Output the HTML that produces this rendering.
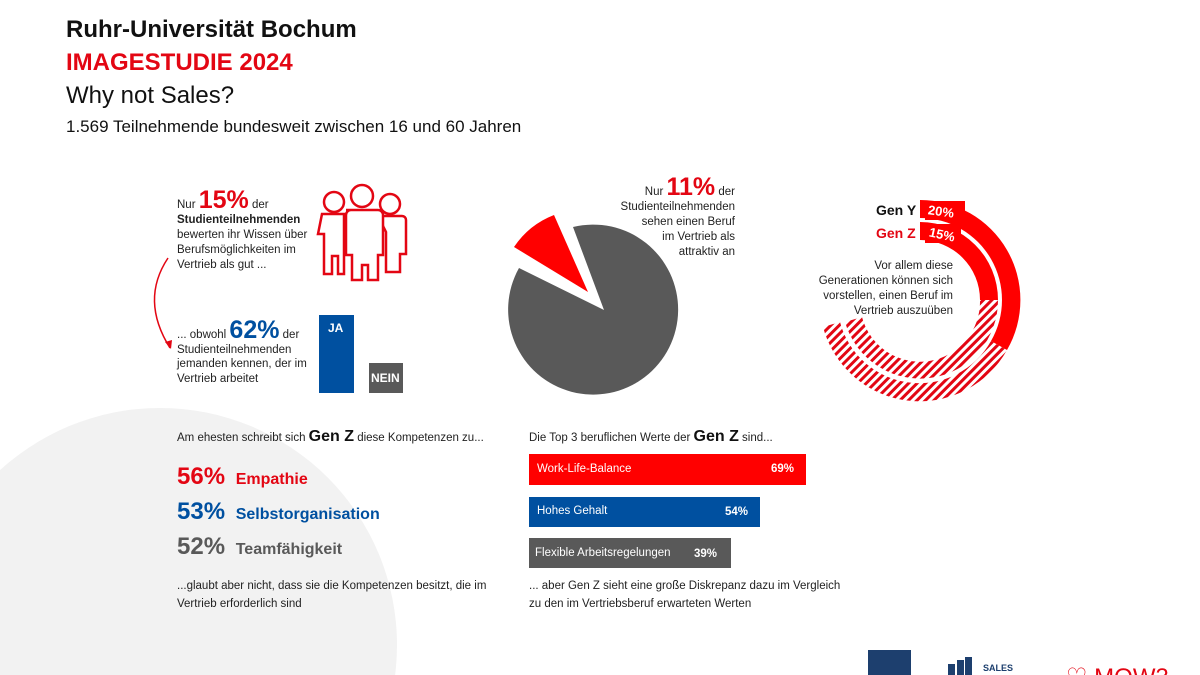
<!DOCTYPE html>
<html><head><meta charset="utf-8"><style>
body{margin:0;width:1200px;height:675px;overflow:hidden;background:#fff;font-family:"Liberation Sans",sans-serif;position:relative}
.a{position:absolute;white-space:nowrap}
.b{font-weight:bold}
</style></head><body>
<svg class="a" style="left:0;top:0" width="1200" height="675">
<defs>
<pattern id="st" width="6" height="6" patternUnits="userSpaceOnUse" patternTransform="rotate(45)">
<rect width="3" height="6" fill="#e30613"/>
</pattern>
</defs>
<circle cx="160" cy="645" r="237" fill="#f2f2f2"/>
<g fill="none" stroke="#e30613" stroke-width="2.5">
<circle cx="334" cy="202" r="10"/><circle cx="390" cy="204" r="10"/><circle cx="362" cy="196" r="11"/>
<path d="M322 214 h22 v60 h-6 v-18 h-6 v18 h-8 v-40 h-6z" />
<path d="M378 216 h24 a4 4 0 0 1 4 4 v34 h-6 v18 h-14 v-40z"/>
<path d="M346 210 h32 a5 5 0 0 1 5 5 v40 h-5 v25 h-10 v-15 h-6 v15 h-10 v-25 h-6 v-40 a5 5 0 0 1 5 -5z" fill="#fff"/>
</g>
<path d="M168 258 Q140 300 170 348" fill="none" stroke="#e30613" stroke-width="1.5"/>
<path d="M165 342 l6 7 l1 -9z" fill="#e30613"/>
<rect x="319" y="315" width="35" height="78" fill="#0050a0"/>
<rect x="369" y="363" width="34" height="30" fill="#595959"/>
<g transform="translate(11,0)">
<path d="M593 310 L562 227 A85 85 0 1 1 508 268 Z" fill="#595959"/>
<path d="M577 292 L503 247 A85 85 0 0 1 543 215 Z" fill="#ff0000"/>
</g>
<path d="M920 200 A100 100 0 0 1 1007 350 L991 341 A82 82 0 0 0 920 218Z" fill="#ff0000"/>
<path d="M1007 350 A100 100 0 0 1 823 327 L840 322 A82 82 0 0 0 991 341Z" fill="url(#st)"/>
<path d="M920 222 A78 78 0 0 1 998 300 L980 300 A60 60 0 0 0 920 240Z" fill="#ff0000"/>
<path d="M998 300 A78 78 0 0 1 845 322 L862 317 A60 60 0 0 0 980 300Z" fill="url(#st)"/>
<rect x="925" y="201" width="40" height="19" fill="#ff0000"/>
<rect x="925" y="224" width="36" height="19" fill="#ff0000"/>
<rect x="529" y="454" width="277" height="31" fill="#ff0000"/>
<rect x="529" y="497" width="231" height="30" fill="#0050a0"/>
<rect x="529" y="538" width="202" height="30" fill="#595959"/>
<rect x="868" y="650" width="43" height="25" fill="#1d3f6e"/>
<rect x="948" y="664" width="7" height="11" fill="#1d3f6e"/><rect x="957" y="660" width="7" height="15" fill="#1d3f6e"/><rect x="965" y="657" width="7" height="18" fill="#1d3f6e"/>
<text x="1066" y="685" font-size="24" fill="#e30613" font-family="Liberation Sans">♡ MOW3</text>
</svg>
<div class="a b" style="left:66px;top:16px;font-size:24px;color:#111">Ruhr-Universität Bochum</div>
<div class="a b" style="left:66px;top:49px;font-size:24px;color:#e30613">IMAGESTUDIE 2024</div>
<div class="a" style="left:66px;top:82px;font-size:24px;color:#111">Why not Sales?</div>
<div class="a" style="left:66px;top:117px;font-size:17px;color:#111">1.569 Teilnehmende bundesweit zwischen 16 und 60 Jahren</div>

<div class="a" style="left:177px;top:193px;font-size:11.5px;line-height:15px;color:#222">Nur <span class="b" style="font-size:25px;color:#e30613">15%</span> der<br><b>Studienteilnehmenden</b><br>bewerten ihr Wissen über<br>Berufsmöglichkeiten im<br>Vertrieb als gut ...</div>
<div class="a" style="left:177px;top:323px;font-size:11.5px;line-height:14.5px;color:#222">... obwohl <span class="b" style="font-size:25px;color:#0050a0">62%</span> der<br>Studienteilnehmenden<br>jemanden kennen, der im<br>Vertrieb arbeitet</div>
<div class="a b" style="left:328px;top:321px;font-size:12px;color:#fff">JA</div>
<div class="a b" style="left:371px;top:371px;font-size:12px;color:#fff">NEIN</div>

<div class="a" style="left:600px;top:180px;width:135px;text-align:right;font-size:11.5px;line-height:15px;color:#222;white-space:normal">Nur <span class="b" style="font-size:25px;color:#e30613">11%</span> der<br>Studienteilnehmenden<br>sehen einen Beruf<br>im Vertrieb als<br>attraktiv an</div>

<div class="a b" style="left:876px;top:202px;font-size:14px;color:#111">Gen Y</div>
<div class="a b" style="left:928px;top:204px;font-size:13px;color:#fff;transform:rotate(8deg)">20%</div>
<div class="a b" style="left:876px;top:225px;font-size:14px;color:#e30613">Gen Z</div>
<div class="a b" style="left:929px;top:227px;font-size:13px;color:#fff;transform:rotate(12deg)">15%</div>
<div class="a" style="left:790px;top:259px;width:163px;text-align:right;font-size:11.5px;line-height:15px;color:#222">Vor allem diese<br>Generationen können sich<br>vorstellen, einen Beruf im<br>Vertrieb auszuüben</div>

<div class="a" style="left:177px;top:428px;font-size:11.5px;color:#222">Am ehesten schreibt sich <span class="b" style="font-size:16px;color:#111">Gen Z</span> diese Kompetenzen zu...</div>
<div class="a b" style="left:177px;top:463px;font-size:24px;color:#e30613">56% <span style="font-size:16px;margin-left:4px">Empathie</span></div>
<div class="a b" style="left:177px;top:498px;font-size:24px;color:#0050a0">53% <span style="font-size:16px;margin-left:4px">Selbstorganisation</span></div>
<div class="a b" style="left:177px;top:533px;font-size:24px;color:#595959">52% <span style="font-size:16px;margin-left:4px">Teamfähigkeit</span></div>
<div class="a" style="left:177px;top:577px;font-size:11.5px;line-height:18px;color:#222">...glaubt aber nicht, dass sie die Kompetenzen besitzt, die im<br>Vertrieb erforderlich sind</div>

<div class="a" style="left:529px;top:428px;font-size:11.5px;color:#222">Die Top 3 beruflichen Werte der <span class="b" style="font-size:16px;color:#111">Gen Z</span> sind...</div>
<div class="a" style="left:537px;top:463px;font-size:11.5px;color:#fff">Work-Life-Balance</div>
<div class="a b" style="left:771px;top:463px;font-size:11.5px;color:#fff">69%</div>
<div class="a" style="left:537px;top:505px;font-size:11.5px;color:#fff">Hohes Gehalt</div>
<div class="a b" style="left:725px;top:506px;font-size:11.5px;color:#fff">54%</div>
<div class="a" style="left:535px;top:547px;font-size:11.5px;color:#fff">Flexible Arbeitsregelungen</div>
<div class="a b" style="left:694px;top:548px;font-size:11.5px;color:#fff">39%</div>
<div class="a" style="left:529px;top:577px;font-size:11.5px;line-height:18px;color:#222">... aber Gen Z sieht eine große Diskrepanz dazu im Vergleich<br>zu den im Vertriebsberuf erwarteten Werten</div>

<div class="a b" style="left:983px;top:663px;font-size:9px;line-height:10px;color:#1d3f6e">SALES</div>
</body></html>
